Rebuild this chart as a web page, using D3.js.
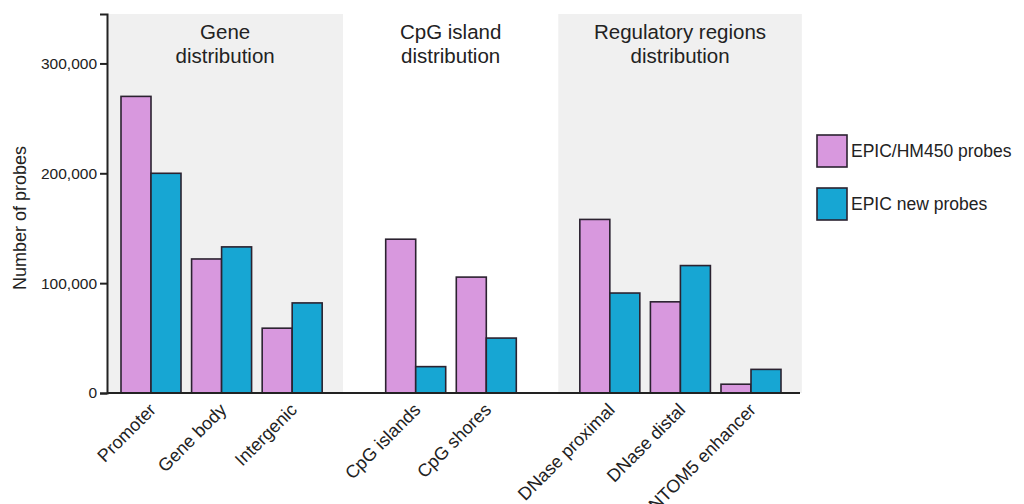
<!DOCTYPE html>
<html>
<head>
<meta charset="utf-8">
<script src="https://cdn.jsdelivr.net/npm/d3@7"></script>
<style>
  body { margin: 0; background: #fff; }
  text { font-family: "Liberation Sans", Arial, Helvetica, sans-serif; fill: #222; }
</style>
</head>
<body>
<div id="wrap"></div>
<script>
// data
var categories = ["Promoter", "Gene body", "Intergenic", "CpG islands", "CpG shores",
                  "DNase proximal", "DNase distal", "FANTOM5 enhancer"];
var sectionOf = [0, 0, 0, 1, 1, 2, 2, 2];
var sectionTitles = [["Gene", "distribution"], ["CpG island", "distribution"], ["Regulatory regions", "distribution"]];
var seriesNames = ["EPIC/HM450 probes", "EPIC new probes"];
var hm450 = [270000, 122000, 59000, 140000, 105500, 158000, 83000, 8000];
var epicNew = [200000, 133000, 82000, 24000, 50000, 91000, 116000, 21500];
var yTicks = [0, 100000, 200000, 300000];

var colors = ["#d898de", "#17a6d3"];
var width = 1024, height = 504;

var svg = d3.select('#wrap').append('svg')
  .attr('width', width)
  .attr('height', height);

//scales (categories sit on "slots", with a wider gap between sections)
var slot = function(i) { return i + sectionOf[i] * 0.75; };
var x = d3.scaleLinear().domain([0, 8.5]).range([151, 751]);
var xSeries = d3.scaleBand().domain(seriesNames).range([-30, 30]);
var y = d3.scaleLinear().domain([0, 345000]).range([393, 14]);

//panel backgrounds
var panelSlots = [[-0.62, 2.72], [2.72, 5.77], [5.77, 9.22]];
svg.selectAll('.panel')
  .data(panelSlots)
  .enter().append('rect')
    .attr('class', 'panel')
    .attr('x', function(d) { return x(d[0]); })
    .attr('y', y.range()[1])
    .attr('width', function(d) { return x(d[1]) - x(d[0]); })
    .attr('height', y.range()[0] - y.range()[1])
    .style('fill', function(d, i) { return i === 1 ? '#fff' : '#f0f0f0'; });

//section titles
svg.selectAll('.title')
  .data(sectionTitles)
  .enter().append('text')
    .attr('class', 'title')
    .attr('text-anchor', 'middle')
    .style('font-size', '20.5px')
    .each(function(d, i) {
      var cx = (x(panelSlots[i][0]) + x(panelSlots[i][1])) / 2;
      d3.select(this).selectAll('tspan')
        .data(d)
        .enter().append('tspan')
          .attr('x', cx)
          .attr('y', function(t, j) { return 39 + j * 24; })
          .text(function(t) { return t; });
    });

//bars
var rows = categories.map(function(c, i) {
  return { name: c, i: i, values: [hm450[i], epicNew[i]] };
});

var groups = svg.selectAll('.group')
  .data(rows)
  .enter().append('g')
    .attr('class', 'group')
    .attr('transform', function(d) { return 'translate(' + x(slot(d.i)) + ',0)'; });

groups.selectAll('rect')
  .data(function(d) { return d.values.map(function(v, k) { return { s: seriesNames[k], v: v, k: k }; }); })
  .enter().append('rect')
    .attr('x', function(d) { return xSeries(d.s); })
    .attr('y', function(d) { return y(d.v); })
    .attr('width', xSeries.bandwidth())
    .attr('height', function(d) { return y(0) - y(d.v); })
    .style('fill', function(d) { return colors[d.k]; })
    .style('stroke', '#2b2230')
    .style('stroke-width', '1.6px');

//x labels
groups.append('text')
  .attr('transform', 'translate(6,411) rotate(-45)')
  .attr('text-anchor', 'end')
  .style('font-size', '18px')
  .text(function(d) { return d.name; });

//y axis
var yAxis = d3.axisLeft(y)
  .tickValues(yTicks)
  .tickSize(7)
  .tickPadding(3)
  .tickFormat(d3.format(','));

var gy = svg.append('g')
  .attr('transform', 'translate(107,0)')
  .call(yAxis);
gy.select('.domain').style('stroke', '#222').style('stroke-width', '2px');
gy.selectAll('.tick line').style('stroke', '#222').style('stroke-width', '2px');
gy.selectAll('.tick text')
  .style('font-size', '15.5px')
  .style('font-family', '"Liberation Sans", Arial, sans-serif')
  .style('fill', '#222');

//baseline
svg.append('line')
  .attr('x1', 107).attr('x2', 800)
  .attr('y1', y(0)).attr('y2', y(0))
  .style('stroke', '#222')
  .style('stroke-width', '2px');

svg.append('text')
  .attr('transform', 'translate(26,' + 218 + ') rotate(-90)')
  .attr('text-anchor', 'middle')
  .style('font-size', '18px')
  .text('Number of probes');

//legend
var legend = svg.selectAll('.legend')
  .data(seriesNames)
  .enter().append('g')
    .attr('class', 'legend')
    .attr('transform', function(d, i) { return 'translate(817,' + (135 + i * 53) + ')'; });

legend.append('rect')
  .attr('width', 30)
  .attr('height', 32)
  .style('fill', function(d, i) { return colors[i]; })
  .style('stroke', '#2b2230')
  .style('stroke-width', '1.6px');

legend.append('text')
  .attr('x', 34)
  .attr('y', 16)
  .attr('dy', '0.35em')
  .style('font-size', '17.5px')
  .text(function(d) { return d; });
</script>
</body>
</html>
